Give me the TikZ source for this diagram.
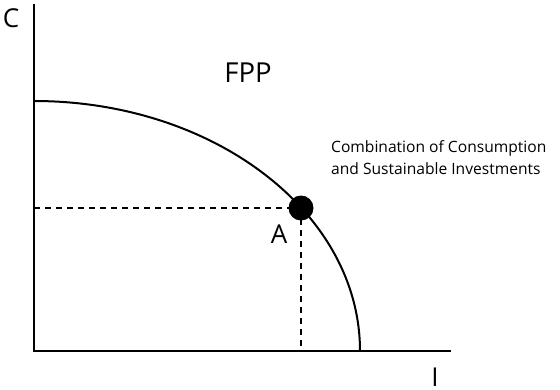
\documentclass[tikz,border=0pt]{standalone}
\usepackage{fontspec}
\setmainfont{Open Sans}
\begin{document}
\begin{tikzpicture}[x=1pt,y=-1pt,
  axis/.style={line width=2pt},
  curve/.style={line width=2pt},
  guide/.style={line width=1.6pt,dash pattern=on 6pt off 5pt},
  lbl/.style={inner sep=0pt,font=\fontsize{26}{30}\selectfont},
  note/.style={inner sep=0pt,align=left,font=\fontsize{15.6}{22}\selectfont,anchor=north west}]
\useasboundingbox (0,0) rectangle (560,389);
\coordinate (O) at (34,351);
\coordinate (top) at (34,4);
\coordinate (right) at (451,351);
\coordinate (P) at (301,208);
\coordinate (Px) at (34,208);
\coordinate (Py) at (301,351);
\draw[axis] (top) -- (O) -- (right);
\draw[curve] (34,101) arc[start angle=-90,end angle=0,x radius=326,y radius=250];
\draw[guide] (Px) -- (P);
\draw[guide] (P) -- (Py);
\fill (P) circle (12.5);
\node[lbl] (C) at (11,18) {C};
\node[lbl,anchor=base] (I) at (435,386) {I};
\node[lbl,font=\fontsize{27.5}{30}\selectfont] (F) at (248,73) {FPP};
\node[lbl] (A) at (279,234) {A};
\node[note] (N) at (331,140) {Combination of Consumption\\and Sustainable Investments};
\end{tikzpicture}
\end{document}
